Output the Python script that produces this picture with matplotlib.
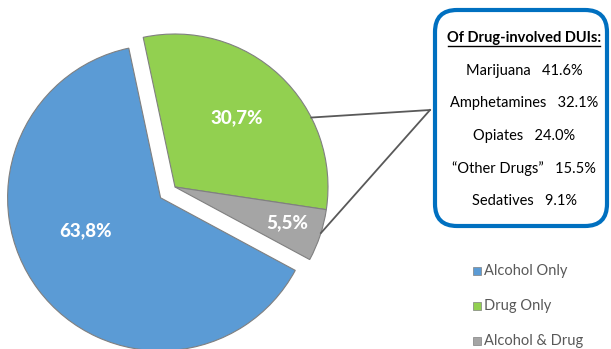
import numpy as np
import matplotlib.pyplot as plt
from matplotlib.patches import FancyBboxPatch, Rectangle

# pie data (drawing order: clockwise from the green slice)
categorias = ['Drug Only', 'Alcohol & Drug', 'Alcohol Only']
valores = [30.7, 5.5, 63.8]
colores = ['#92D050', '#A5A5A5', '#5B9BD5']
explosion = [0, 0, 18]
dist_etiqueta = [0.61, 0.77, 0.54]
giro_etiqueta = [1.5, 1, -13]

orden_leyenda = ['Alcohol Only', 'Drug Only', 'Alcohol & Drug']

titulo_caja = 'Of Drug-involved DUIs:'
drogas = ['Marijuana', 'Amphetamines', 'Opiates', '\u201cOther Drugs\u201d', 'Sedatives']
pct_drogas = [41.6, 32.1, 24.0, 15.5, 9.1]

W, H = 611, 349
plt.rcParams['font.family'] = ['Lato', 'DejaVu Sans']

fig = plt.figure(figsize=(W / 100, H / 100), dpi=100)
ax = fig.add_axes([0, 0, 1, 1])

centro = (175, H - 187)
radio = 153
cuñas, textos = ax.pie(valores, colors=colores, explode=explosion, radius=radio,
                       center=centro, startangle=102, counterclock=False,
                       wedgeprops=dict(edgecolor='#808080', linewidth=0.8))
# pie() resets the limits, so set them afterwards
ax.set_xlim(0, W)
ax.set_ylim(0, H)
ax.set_aspect('equal')
ax.axis('off')

# percentage labels with comma decimals
for w, v, d, g in zip(cuñas, valores, dist_etiqueta, giro_etiqueta):
    ang = np.deg2rad((w.theta1 + w.theta2) / 2 + g)
    cx, cy = w.center
    ax.text(cx + d * radio * np.cos(ang), cy + d * radio * np.sin(ang),
            f'{v:.1f}%'.replace('.', ','), ha='center', va='center',
            color='white', fontsize=13.5, fontweight='black')

# connector lines from the drug slices to the box
punto_caja = (430, H - 110)
for ang_deg in [27, -17.5]:
    a = np.deg2rad(ang_deg)
    ax.plot([centro[0] + radio * np.cos(a), punto_caja[0]],
            [centro[1] + radio * np.sin(a), punto_caja[1]],
            color='#595959', linewidth=1.3)

# rounded box
caja = FancyBboxPatch((435 + 22, H - 226 + 22), 172 - 44, 216 - 44,
                      boxstyle='round,pad=22', facecolor='white',
                      edgecolor='#0070C0', linewidth=3)
ax.add_patch(caja)

xc = 524
ax.text(xc, H - 38, titulo_caja, ha='center', va='center', fontsize=10.5,
        fontweight='bold', color='black')
ax.plot([448, 600], [H - 46, H - 46], color='black', linewidth=1)
for i, (nombre, p) in enumerate(zip(drogas, pct_drogas)):
    ax.text(xc, H - 71 - i * 32.5, f'{nombre}   {p:.1f}%', ha='center',
            va='center', fontsize=10.5, color='black')

# legend
for i, nombre in enumerate(orden_leyenda):
    y = H - 271 - i * 35
    col = colores[categorias.index(nombre)]
    ax.add_patch(Rectangle((473, y - 4), 8, 8, facecolor=col,
                           edgecolor='#808080', linewidth=0.5))
    ax.text(484, y, nombre, ha='left', va='center', fontsize=10.5, color='#595959')

plt.savefig('out.png', dpi=100)
